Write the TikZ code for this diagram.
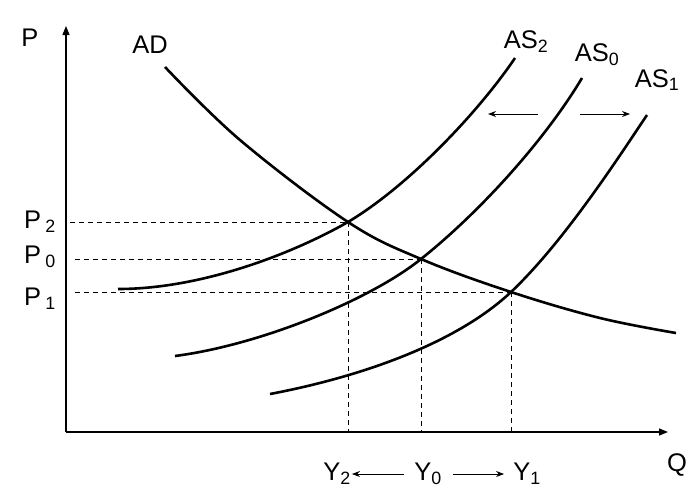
\documentclass[tikz,border=0pt]{standalone}
\usepackage{fontspec}
\setmainfont{Liberation Sans}
\usetikzlibrary{arrows.meta}

\begin{document}
\begin{tikzpicture}[
    x=1pt, y=-1pt,
    lbl/.style={font=\fontsize{25.5}{30}\selectfont, inner sep=1pt},
    curve/.style={line width=2.6pt},
    axis/.style={-{Triangle[length=9pt, width=7pt]}, line width=1.4pt},
    guide/.style={dashed, line width=0.8pt, dash pattern=on 5pt off 4pt},
    movearrow/.style={-{Stealth[length=8pt, width=6pt]}, line width=1pt}
]
\useasboundingbox (0,0) rectangle (700,499);

% Axes
\coordinate (o) at (66,432);
\coordinate (ptop) at (66,26);
\coordinate (qend) at (668,432);
\draw[axis] (o) -- (ptop);
\draw[axis] (o) -- (qend);
\node[lbl] (plab) at (30,38) {P};
\node[lbl] (qlab) at (677,465) {Q};

% Equilibrium points
\coordinate (e2) at (348,222);
\coordinate (e0) at (421,259);
\coordinate (e1) at (511,292);

% Dashed guides
\draw[guide] (70,222) -- (e2);
\draw[guide] (75,259) -- (e0);
\draw[guide] (75,292) -- (e1);
\draw[guide] (e2) -- (e2 |- o);
\draw[guide] (e0) -- (e0 |- o);
\draw[guide] (e1) -- (e1 |- o);

% Curves
\draw[curve, smooth, tension=0.6] plot coordinates {(165,67) (240,140) (e2) (e0) (e1) (600,318) (676,333)};
\draw[curve] (118,289) .. controls (200,289) and (290,255) .. (e2)
    .. controls (410,185) and (480,110) .. (515,58);
\draw[curve] (175,356) .. controls (260,345) and (370,300) .. (e0)
    .. controls (480,212) and (545,140) .. (582,78);
\draw[curve] (270,394) .. controls (370,375) and (460,340) .. (e1)
    .. controls (565,241) and (622,152) .. (647,115);

% Curve labels
\node[lbl] (ad) at (150,45) {AD};
\node[lbl] (as2) at (526,42) {AS\textsubscript{2}};
\node[lbl] (as0) at (597,55) {AS\textsubscript{0}};
\node[lbl] (as1) at (657,80) {AS\textsubscript{1}};

% Price labels
\node[lbl] (p2) at (40,222) {P\,\textsubscript{2}};
\node[lbl] (p0) at (40,257) {P\,\textsubscript{0}};
\node[lbl] (p1) at (40,299) {P\,\textsubscript{1}};

% Output labels
\node[lbl] (y2) at (337,474) {Y\textsubscript{2}};
\node[lbl] (y0) at (428,474) {Y\textsubscript{0}};
\node[lbl] (y1) at (527,474) {Y\textsubscript{1}};

% Shift arrows
\coordinate (sl) at (538,114);
\coordinate (sr) at (580,114);
\draw[movearrow] (sl) -- ++(-50,0);
\draw[movearrow] (sr) -- ++(50,0);
\draw[movearrow, shorten <=9pt] (y0.west) -- (y2.east);
\draw[movearrow, shorten <=10pt, shorten >=8pt] (y0.east) -- (y1.west);

\end{tikzpicture}
\end{document}
